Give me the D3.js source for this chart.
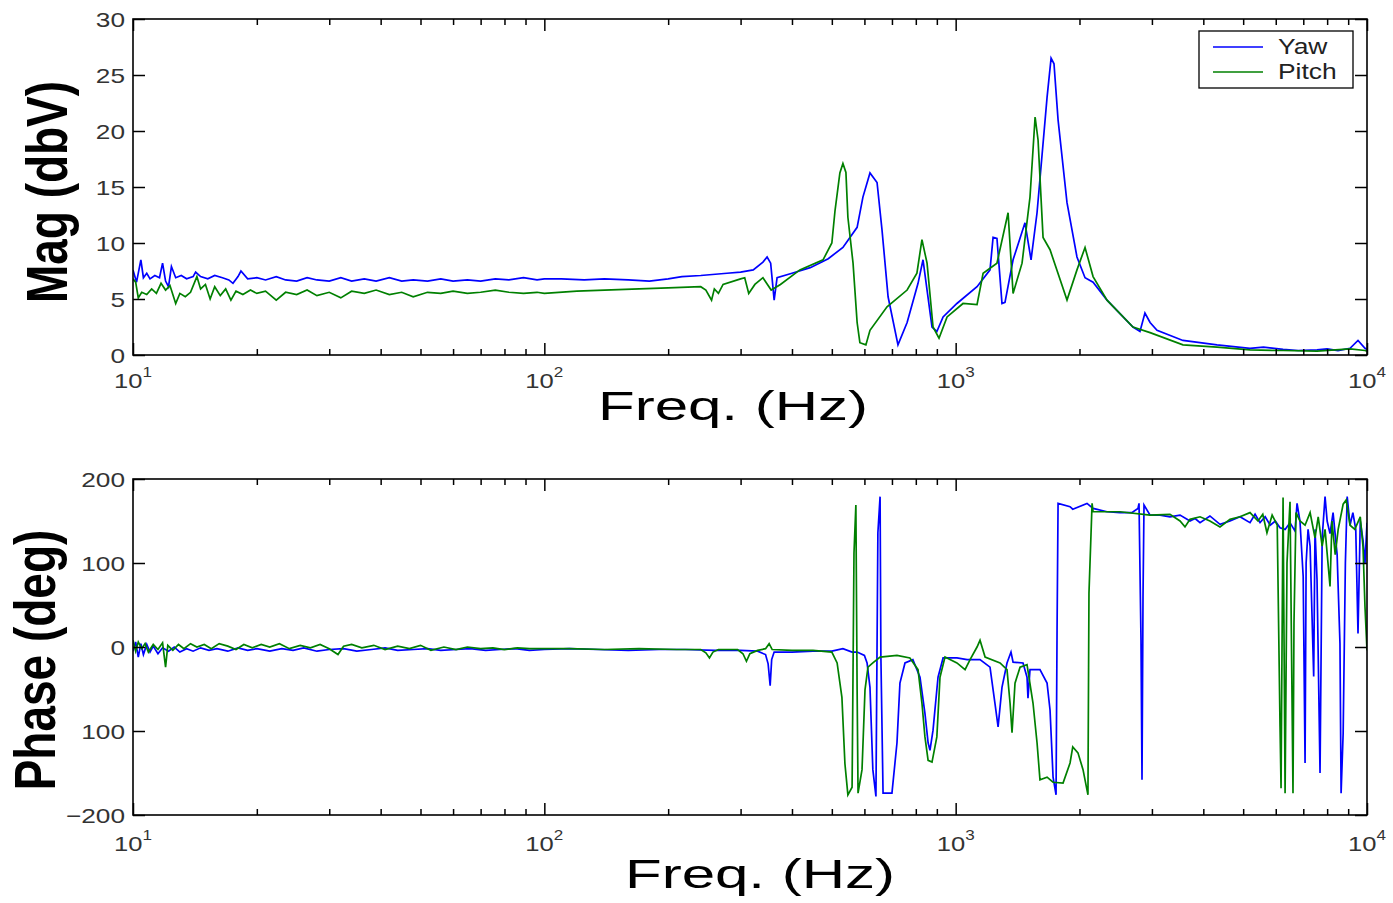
<!DOCTYPE html>
<html><head><meta charset="utf-8">
<script src="https://cdn.jsdelivr.net/npm/d3@7"></script>
<style>body{margin:0;background:#fff} svg{display:block}</style>
</head><body><svg id="c" width="1393" height="903"></svg>
<script>
const seriesNames = ["Yaw", "Pitch"];
const seriesColors = ["#0000ff", "#008000"];

// [frequency Hz, magnitude dBV]
const yawMag = [[10,7.6],[10.2,6.5],[10.45,8.5],[10.6,6.9],[10.8,7.3],[11,6.8],[11.3,7.1],[11.6,6.9],[11.8,8.2],[12,6.6],[12.2,6.1],[12.4,7.9],[12.7,6.9],[13.1,7.1],[13.5,6.8],[14,7.0],[14.2,7.4],[14.6,7.0],[15.2,6.8],[15.8,7.1],[16.5,6.9],[17.1,6.7],[17.5,6.4],[18,7.0],[18.3,7.5],[19,6.8],[20,6.9],[21,6.7],[22.3,7.0],[23.5,6.7],[25,6.6],[26.5,6.9],[28,6.7],[30,6.6],[32,6.9],[34,6.6],[36.5,6.8],[39,6.6],[42,6.9],[45,6.6],[48,6.7],[52,6.6],[56,6.8],[60,6.6],[65,6.7],[70,6.6],[76,6.8],[82,6.7],[89,6.9],[96,6.7],[100,6.8],[110,6.8],[125,6.7],[140,6.8],[160,6.7],[180,6.6],[200,6.8],[216,7.0],[240,7.1],[278,7.3],[300,7.4],[322,7.6],[340,8.3],[348,8.75],[355,8.2],[362,4.9],[368,6.9],[400,7.3],[443,7.8],[490,8.6],[532,9.6],[576,11.4],[595,14.1],[619,16.25],[644,15.4],[662,11.2],[685,5.2],[724,0.9],[762,2.9],[810,6.4],[833,8.5],[852,5.8],[876,2.5],[900,2.1],[932,3.4],[1007,4.6],[1127,6.1],[1212,7.6],[1233,10.5],[1260,10.4],[1296,4.6],[1318,4.7],[1379,8.5],[1474,11.8],[1525,8.5],[1577,12.7],[1668,23],[1706,26.5],[1734,26],[1774,21],[1865,13.6],[1972,8.75],[2063,6.9],[2158,6.5],[2333,4.9],[2698,2.5],[2806,2.1],[2885,3.75],[2969,2.9],[3087,2.2],[3569,1.3],[4319,0.9],[5195,0.6],[5600,0.7],[6251,0.5],[6800,0.4],[7560,0.45],[8000,0.55],[8500,0.4],[9094,0.6],[9509,1.3],[9888,0.6],[10000,0.5]];

const pitchMag = [[10,6.8],[10.15,6.5],[10.3,5.1],[10.5,5.6],[10.8,5.4],[11.1,5.9],[11.4,5.5],[11.7,6.4],[12,5.8],[12.3,6.2],[12.7,4.6],[13,5.5],[13.4,5.2],[13.8,5.6],[14.3,7.0],[14.6,5.9],[15,6.3],[15.4,5.0],[15.8,6.1],[16.3,5.3],[16.8,5.9],[17.3,4.9],[17.8,5.7],[18.5,5.4],[19.3,5.8],[20,5.5],[21,5.7],[22.3,4.9],[23.5,5.6],[25,5.4],[26.5,5.8],[28,5.3],[30,5.6],[32,5.1],[34,5.7],[36.5,5.5],[39,5.8],[42,5.4],[45,5.6],[48,5.2],[52,5.6],[56,5.5],[60,5.7],[65,5.5],[70,5.6],[76,5.8],[82,5.6],[89,5.5],[96,5.6],[100,5.5],[120,5.7],[140,5.8],[170,5.9],[200,6.0],[240,6.1],[247,5.8],[255,4.9],[259,5.9],[265,5.5],[272,6.3],[300,6.8],[307,6.9],[314,5.5],[325,6.3],[340,6.9],[356,5.8],[375,6.3],[418,7.6],[476,8.5],[500,10],[509,12.9],[523,16.25],[532,17.1],[541,16.3],[547,12.3],[563,8.2],[576,2.9],[585,1.1],[605,0.9],[619,2.2],[681,4.3],[762,5.8],[805,7.3],[828,10.3],[852,8.2],[881,2.5],[911,1.5],[953,3.4],[1042,4.6],[1127,4.5],[1166,7.3],[1260,8.2],[1341,12.7],[1379,5.5],[1450,8.2],[1516,14.1],[1560,21.25],[1586,19.2],[1631,10.5],[1696,9.4],[1865,4.9],[1972,7.6],[2063,9.6],[2158,7.0],[2333,4.9],[2698,2.5],[2969,2.0],[3569,0.9],[4319,0.7],[5195,0.45],[6251,0.4],[7560,0.35],[9094,0.55],[9888,0.4],[10000,0.35]];

// [frequency Hz, phase deg]
const yawPhase = [[10,-5],[10.15,6],[10.3,-12],[10.45,4],[10.6,-9],[10.8,3],[11,-6],[11.2,1],[11.5,-8],[11.8,-1],[12.2,-5],[12.6,0],[13,-6],[13.5,-2],[14,-5],[14.6,-1],[15.3,-4],[16,-2],[17,-5],[18,-1],[19,-4],[20,-2],[21.5,-5],[23,-2],[24.5,-4],[26,-1],[28,-5],[30,-3],[32.5,-2],[35,-5],[38,-3],[41,-1],[44,-4],[48,-3],[52,-2],[56,-4],[61,-3],[66,-2],[72,-4],[78,-3],[85,-2],[92,-4],[100,-3],[115,-2],[135,-3],[160,-4],[190,-3],[220,-3],[260,-4],[300,-4],[330,-5],[345,-9],[350,-20],[354,-46],[357,-15],[362,-6],[400,-6],[450,-5],[500,-5],[532,-2],[560,-6],[576,-6],[600,-10],[609,-19],[619,-48],[629,-146],[640,-178],[647,136],[655,179],[658,-12],[666,-174],[700,-174],[720,-114],[732,-43],[753,-19],[787,-15],[819,-36],[842,-79],[857,-114],[866,-123],[881,-99],[906,-36],[932,-13],[1007,-13],[1066,-15],[1146,-15],[1212,-24],[1246,-67],[1268,-95],[1296,-48],[1333,-19],[1363,-6],[1379,-18],[1458,-19],[1491,-36],[1499,-61],[1516,-27],[1603,-27],[1668,-43],[1696,-75],[1725,-155],[1754,-176],[1764,20],[1774,171],[1897,167],[1926,164],[2086,171],[2158,165],[2333,161],[2509,160],[2681,160],[2775,165],[2791,171],[2822,8],[2838,-158],[2854,60],[2870,169],[2969,157],[3139,157],[3319,155],[3511,157],[3713,150],[3820,153],[3927,148],[4151,156],[4391,146],[4645,150],[4911,155],[5195,148],[5344,158],[5495,148],[5655,155],[5818,145],[5985,150],[6146,142],[6322,140],[6499,148],[6683,138],[6760,171],[6871,150],[6996,84],[7070,-138],[7112,100],[7190,140],[7272,120],[7420,-35],[7475,140],[7560,80],[7688,-150],[7780,130],[7907,179],[8000,150],[8130,135],[8270,160],[8460,110],[8596,4],[8650,-174],[8750,-103],[8860,100],[8950,179],[9094,145],[9240,160],[9390,140],[9509,16],[9630,150],[9780,127],[9888,100],[10000,148]];

const pitchPhase = [[10,8],[10.15,-5],[10.3,6],[10.5,-2],[10.7,4],[10.9,-6],[11.2,3],[11.5,-3],[11.8,5],[12,-24],[12.15,2],[12.5,-4],[12.9,3],[13.3,-2],[13.8,4],[14.3,0],[14.9,3],[15.5,-2],[16.2,4],[17,1],[17.8,-3],[18.6,3],[19.5,-1],[20.5,3],[21.5,0],[22.7,4],[24,-2],[25.5,2],[27,-1],[28.5,3],[30,-2],[31.5,-9],[32.5,1],[34,3],[36,-1],[38.5,2],[41,-3],[44,1],[47,-2],[50,2],[53,-4],[57,0],[61,-3],[65,0],[70,-2],[75,-1],[80,-3],[86,-1],[92,-2],[100,-2],[115,-2],[140,-3],[170,-2],[210,-3],[240,-3],[247,-7],[252,-13],[257,-6],[265,-3],[295,-3],[304,-8],[310,-17],[316,-8],[330,-4],[345,-2],[352,4],[358,-3],[400,-4],[450,-4],[500,-6],[515,-19],[529,-60],[538,-139],[547,-176],[560,-167],[566,112],[572,169],[576,-51],[579,-174],[592,-146],[602,-51],[612,-24],[629,-19],[655,-12],[720,-10],[774,-13],[810,-27],[828,-67],[842,-107],[857,-135],[876,-137],[900,-107],[916,-36],[942,-12],[1007,-19],[1054,-27],[1084,-15],[1127,0],[1146,8],[1179,-12],[1282,-19],[1333,-27],[1356,-67],[1371,-102],[1394,-43],[1434,-24],[1491,-21],[1542,-67],[1577,-114],[1603,-158],[1668,-155],[1725,-161],[1824,-162],[1897,-138],[1926,-119],[1983,-126],[2040,-146],[2097,-176],[2109,64],[2146,171],[2158,161],[2509,161],[2969,157],[3319,158],[3511,150],[3610,143],[3713,152],[3927,155],[4151,150],[4391,143],[4645,152],[4911,155],[5195,160],[5432,150],[5580,158],[5712,136],[5880,157],[6050,145],[6146,-95],[6181,-168],[6251,178],[6322,-174],[6390,100],[6499,173],[6608,-174],[6645,28],[6720,160],[6871,150],[7070,145],[7272,160],[7475,130],[7610,155],[7780,120],[7907,140],[8130,72],[8220,150],[8370,110],[8510,140],[8750,170],[8900,175],[9094,145],[9340,140],[9630,155],[9780,119],[9888,48],[10000,-4]];

const magTicks = [0, 5, 10, 15, 20, 25, 30];
const magTickLabels = ["0", "5", "10", "15", "20", "25", "30"];
const phaseTicks = [-200, -100, 0, 100, 200];
const phaseTickLabels = ["\u2212200", "100", "0", "100", "200"];
const decadeTicks = [10, 100, 1000, 10000];
const decadeExponents = ["1", "2", "3", "4"];
const xTitle = "Freq. (Hz)";
const magTitle = "Mag (dbV)";
const phaseTitle = "Phase (deg)";

const FONT = "'Liberation Sans', Arial, Helvetica, sans-serif";
const svg = d3.select("#c");
const L = 133, R = 1367;
const x = d3.scaleLog().domain([10, 10000]).range([L, R]);
const minorTicks = [];
[10, 100, 1000].forEach(d => { for (let m = 2; m <= 9; m++) minorTicks.push(d * m); });

const panels = [
  {top: 19, bottom: 355, domain: [0, 30], ticks: magTicks, labels: magTickLabels,
   data: [yawMag, pitchMag], title: magTitle, titleX: 67, titleY: 192,
   xlabX: 733, xlabY: 420, tickLabY: 388},
  {top: 479, bottom: 815, domain: [-200, 200], ticks: phaseTicks, labels: phaseTickLabels,
   data: [yawPhase, pitchPhase], title: phaseTitle, titleX: 55, titleY: 660,
   xlabX: 760, xlabY: 888, tickLabY: 851}
];

panels.forEach((p, i) => {
  const y = d3.scaleLinear().domain(p.domain).range([p.bottom, p.top]);
  const g = svg.append("g");
  const clipId = "clip" + i;
  svg.append("clipPath").attr("id", clipId).append("rect")
    .attr("x", L).attr("y", p.top).attr("width", R - L).attr("height", p.bottom - p.top);

  const line = d3.line().x(d => x(d[0])).y(d => y(d[1]));
  const lg = g.append("g").attr("clip-path", `url(#${clipId})`);
  p.data.forEach((ser, k) => {
    lg.append("path").datum(ser).attr("d", line)
      .attr("fill", "none").attr("stroke", seriesColors[k])
      .attr("stroke-width", 1.7).attr("stroke-linejoin", "miter");
  });

  const axes = [
    [d3.axisBottom(x).tickValues(decadeTicks).tickSize(-12), `translate(0,${p.bottom})`],
    [d3.axisBottom(x).tickValues(minorTicks).tickSize(-6), `translate(0,${p.bottom})`],
    [d3.axisTop(x).tickValues(decadeTicks).tickSize(-12), `translate(0,${p.top})`],
    [d3.axisTop(x).tickValues(minorTicks).tickSize(-6), `translate(0,${p.top})`],
    [d3.axisLeft(y).tickValues(p.ticks).tickSize(-12), `translate(${L},0)`],
    [d3.axisRight(y).tickValues(p.ticks).tickSize(-12), `translate(${R},0)`]
  ];
  axes.forEach(([ax, tr]) => {
    const a = g.append("g").attr("transform", tr).call(ax.tickFormat("").tickSizeOuter(0));
    a.select(".domain").remove();
    a.selectAll("line").attr("stroke", "#000").attr("stroke-width", 1.5);
  });

  g.append("rect").attr("x", L).attr("y", p.top).attr("width", R - L).attr("height", p.bottom - p.top)
    .attr("fill", "none").attr("stroke", "#000").attr("stroke-width", 1.6);

  // y tick labels
  p.ticks.forEach((v, k) => {
    g.append("text").attr("transform", `translate(${L - 8},${y(v)}) scale(1.25,1)`)
      .attr("text-anchor", "end").attr("dy", "0.36em")
      .attr("font-family", FONT).attr("font-size", 21).attr("fill", "#333")
      .text(p.labels[k]);
  });

  // x tick labels with exponent
  decadeTicks.forEach((v, k) => {
    const t = g.append("text").attr("transform", `translate(${x(v)},${p.tickLabY}) scale(1.22,1)`)
      .attr("text-anchor", "middle").attr("font-family", FONT).attr("font-size", 21).attr("fill", "#333");
    t.append("tspan").text("10");
    t.append("tspan").attr("dy", -11).attr("font-size", 14).text(decadeExponents[k]);
  });

  // x title
  g.append("text").attr("x", p.xlabX).attr("y", p.xlabY).attr("text-anchor", "middle")
    .attr("font-family", FONT).attr("font-size", 40).attr("fill", "#000")
    .attr("textLength", 270).attr("lengthAdjust", "spacingAndGlyphs").text(xTitle);

  // y title
  g.append("text").attr("transform", `translate(${p.titleX},${p.titleY}) scale(1.25,1) rotate(-90)`)
    .attr("text-anchor", "middle").attr("font-family", FONT).attr("font-size", 46)
    .attr("font-weight", "bold").attr("fill", "#000")
    .text(p.title);
});

// legend
const leg = svg.append("g");
leg.append("rect").attr("x", 1199).attr("y", 31).attr("width", 154).attr("height", 57)
  .attr("fill", "#fff").attr("stroke", "#000").attr("stroke-width", 1.3);
seriesNames.forEach((n, k) => {
  const ly = 47 + k * 25;
  leg.append("line").attr("x1", 1213).attr("x2", 1263).attr("y1", ly).attr("y2", ly)
    .attr("stroke", seriesColors[k]).attr("stroke-width", 1.5);
  leg.append("text").attr("transform", `translate(1278,${ly + 7}) scale(1.2,1)`)
    .attr("font-family", FONT).attr("font-size", 22).attr("fill", "#222").text(n);
});
</script></body></html>
